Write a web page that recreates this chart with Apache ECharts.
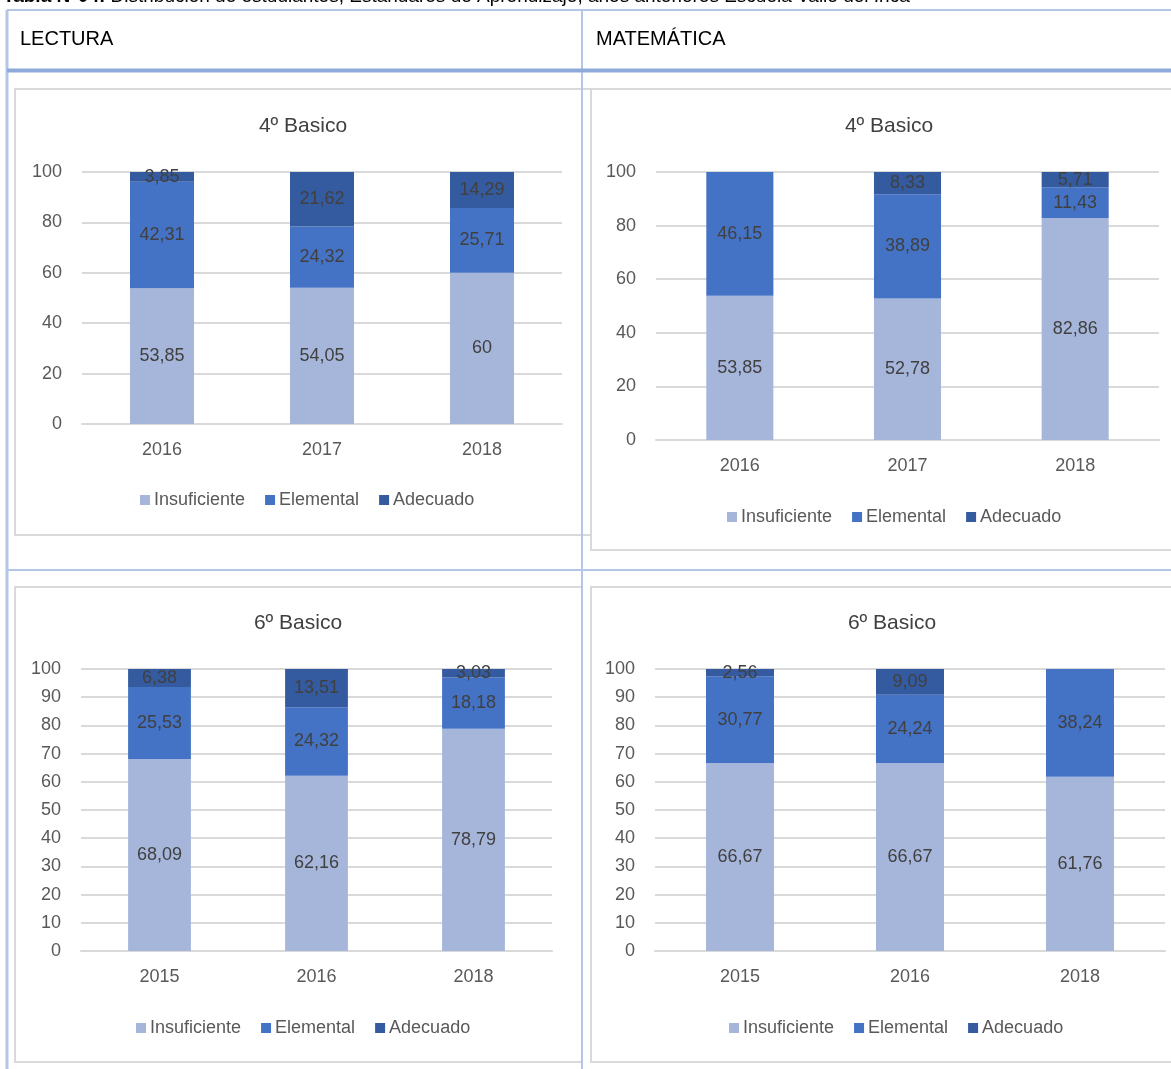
<!DOCTYPE html>
<html>
<head>
<meta charset="utf-8">
<script src="https://cdn.jsdelivr.net/npm/echarts@6/dist/echarts.min.js"></script>
<style>
html,body{margin:0;padding:0;background:#fff;}
#c{width:1171px;height:1069px;}
</style>
</head>
<body>
<div id="c"></div>
<script>
// ---- data ----
const seriesNames = ['Insuficiente', 'Elemental', 'Adecuado'];

const lec4Years = ['2016', '2017', '2018'];
const lec4Insuficiente = [53.85, 54.05, 60];
const lec4Elemental = [42.31, 24.32, 25.71];
const lec4Adecuado = [3.85, 21.62, 14.29];

const mat4Years = ['2016', '2017', '2018'];
const mat4Insuficiente = [53.85, 52.78, 82.86];
const mat4Elemental = [46.15, 38.89, 11.43];
const mat4Adecuado = [0, 8.33, 5.71];

const lec6Years = ['2015', '2016', '2018'];
const lec6Insuficiente = [68.09, 62.16, 78.79];
const lec6Elemental = [25.53, 24.32, 18.18];
const lec6Adecuado = [6.38, 13.51, 3.03];

const mat6Years = ['2015', '2016', '2018'];
const mat6Insuficiente = [66.67, 66.67, 61.76];
const mat6Elemental = [30.77, 24.24, 38.24];
const mat6Adecuado = [2.56, 9.09, 0];

const titles = ['4º Basico', '4º Basico', '6º Basico', '6º Basico'];
const headers = ['LECTURA', 'MATEMÁTICA'];
const caption = 'Distribución de estudiantes, Estándares de Aprendizaje, años anteriores Escuela Valle del Inca';

// ---- style ----
const FONT = "'Liberation Sans Narrow', 'Liberation Sans', Arial, sans-serif";
const TXT = '#404040';
const AXT = '#595959';
const GRID = '#d9d9d9';
const COLORS = ['#a6b5da', '#4472c4', '#345a9f'];
const BLUE_THIN = '#b4c6e7';
const BLUE_THICK = '#8eaadb';
const FS = 18;

const panels = [
  {years: lec4Years, vals: [lec4Insuficiente, lec4Elemental, lec4Adecuado], grid: {left: 82, top: 172, width: 480, height: 252}, interval: 20, titleX: 303, titleY: 116, legendX: 140, legendY: 491},
  {years: mat4Years, vals: [mat4Insuficiente, mat4Elemental, mat4Adecuado], grid: {left: 656, top: 172, width: 503, height: 268}, interval: 20, titleX: 889, titleY: 116, legendX: 727, legendY: 508},
  {years: lec6Years, vals: [lec6Insuficiente, lec6Elemental, lec6Adecuado], grid: {left: 81, top: 669, width: 471, height: 282}, interval: 10, titleX: 298, titleY: 613, legendX: 136, legendY: 1019},
  {years: mat6Years, vals: [mat6Insuficiente, mat6Elemental, mat6Adecuado], grid: {left: 655, top: 669, width: 510, height: 282}, interval: 10, titleX: 892, titleY: 613, legendX: 729, legendY: 1019}
];

const fmt = p => (p.value ? String(p.value).replace('.', ',') : '');

const option = {
  animation: false,
  textStyle: {fontFamily: FONT},
  title: [],
  legend: [],
  grid: [],
  xAxis: [],
  yAxis: [],
  series: [],
  graphic: []
};

panels.forEach((p, i) => {
  option.title.push({
    text: titles[i], left: p.titleX, top: p.titleY, textAlign: 'center', padding: 0,
    textStyle: {fontFamily: FONT, fontSize: 21, fontWeight: 'normal', color: TXT}
  });
  option.legend.push({
    data: seriesNames, left: p.legendX, top: p.legendY, icon: 'rect', padding: 0,
    itemWidth: 10, itemHeight: 10, itemGap: 20, selectedMode: false,
    textStyle: {fontFamily: FONT, fontSize: FS, color: AXT, padding: [0, 0, 0, -1]}
  });
  option.grid.push(Object.assign({containLabel: false}, p.grid));
  option.xAxis.push({
    type: 'category', gridIndex: i, data: p.years,
    axisTick: {show: false},
    axisLine: {lineStyle: {color: GRID, width: 2}},
    axisLabel: {fontFamily: FONT, fontSize: FS, color: AXT, margin: 17}
  });
  option.yAxis.push({
    type: 'value', gridIndex: i, min: 0, max: 100, interval: p.interval,
    axisLine: {show: false}, axisTick: {show: false},
    splitLine: {lineStyle: {color: GRID, width: 2}},
    axisLabel: {fontFamily: FONT, fontSize: FS, color: AXT, margin: 20}
  });
  seriesNames.forEach((n, k) => {
    option.series.push({
      name: n, type: 'bar', stack: 'g' + i, xAxisIndex: i, yAxisIndex: i,
      data: p.vals[k], barWidth: '40%',
      itemStyle: {color: COLORS[k]},
      label: {show: true, position: 'inside', formatter: fmt, fontFamily: FONT, fontSize: FS, color: TXT}
    });
  });
});

// table and chart-box decorations
const line = (x1, y1, x2, y2, color, w) => ({
  type: 'line', silent: true, z: -10,
  shape: {x1, y1, x2, y2}, style: {stroke: color, lineWidth: w}
});
const box = (x, y, w, h) => ({
  type: 'rect', silent: true, z: -20,
  shape: {x, y, width: w, height: h}, style: {fill: 'none', stroke: GRID, lineWidth: 2}
});
option.graphic.push(
  box(15, 89, 576, 446),
  box(591, 89, 600, 461),
  box(15, 587, 567, 475),
  box(591, 587, 600, 475),
  line(7, 10, 1171, 10, BLUE_THIN, 2),
  line(7, 10, 7, 1069, BLUE_THIN, 3),
  line(582, 10, 582, 1069, BLUE_THIN, 2),
  line(7, 70.5, 1171, 70.5, BLUE_THICK, 4),
  line(7, 570, 1171, 570, BLUE_THIN, 2),
  {
    type: 'text', silent: true, left: 20, top: 29,
    style: {text: headers[0], font: "20px " + FONT, fill: '#000'}
  },
  {
    type: 'text', silent: true, left: 596, top: 29,
    style: {text: headers[1], font: "20px " + FONT, fill: '#000'}
  },
  {
    type: 'text', silent: true, x: 3, y: 6,
    style: {
      text: '{b|Tabla N°04:} ' + caption,
      verticalAlign: 'bottom',
      rich: {b: {fontWeight: 'bold', fontFamily: FONT, fontSize: 19, fill: '#000'}},
      font: "19px " + FONT, fill: '#000'
    }
  }
);

const chart = echarts.init(document.getElementById('c'), null, {renderer: 'canvas'});
chart.setOption(option);
</script>
</body>
</html>
